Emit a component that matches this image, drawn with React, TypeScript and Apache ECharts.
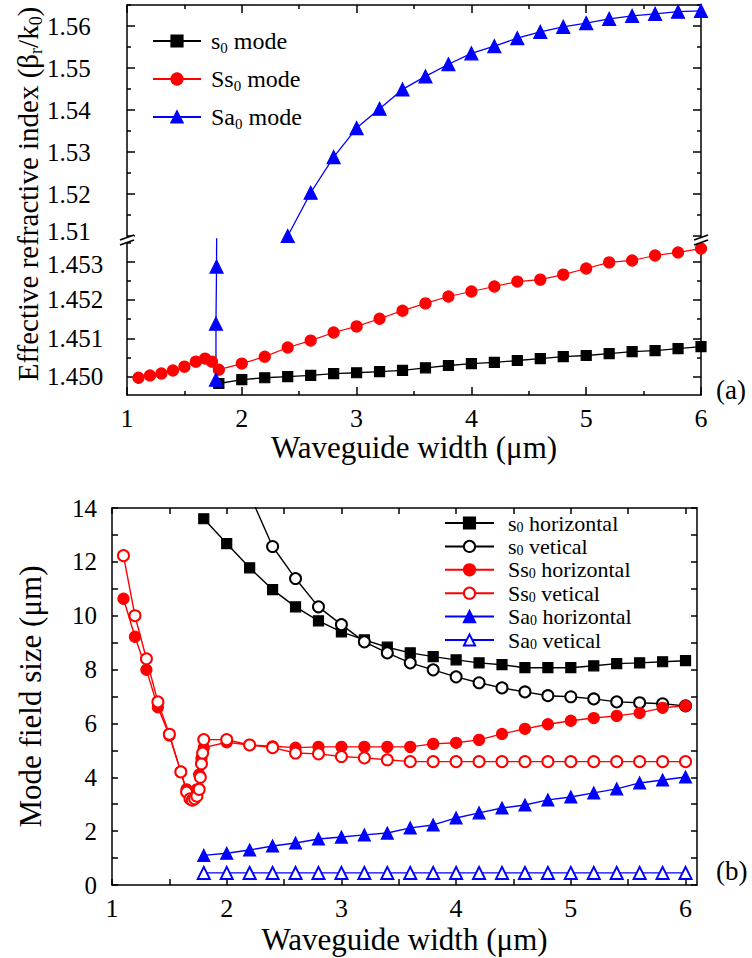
import React, { useEffect, useRef } from 'react';
import * as echarts from 'echarts';

const FONT = "Liberation Serif, Times New Roman, serif";
const BLACK = '#000000';
const RED = '#ff0000';
const BLUE = '#0000ff';

// ---------- Panel (a): effective refractive index ----------
const widthsA = [1.8, 2.0, 2.2, 2.4, 2.6, 2.8, 3.0, 3.2, 3.4, 3.6, 3.8, 4.0, 4.2, 4.4, 4.6, 4.8, 5.0, 5.2, 5.4, 5.6, 5.8, 6.0];
const s0ModeA = [1.44982, 1.44992, 1.44997, 1.45000, 1.45003, 1.45008, 1.45010, 1.45013, 1.45016, 1.45023, 1.45029, 1.45034, 1.45037, 1.45042, 1.45047, 1.45052, 1.45055, 1.45060, 1.45065, 1.45068, 1.45073, 1.45078];

const ss0WidthsA = [1.1, 1.2, 1.3, 1.4, 1.5, 1.6, 1.68, 1.74, 1.8, 2.0, 2.2, 2.4, 2.6, 2.8, 3.0, 3.2, 3.4, 3.6, 3.8, 4.0, 4.2, 4.4, 4.6, 4.8, 5.0, 5.2, 5.4, 5.6, 5.8, 6.0];
const ss0ModeA = [1.44997, 1.45003, 1.45008, 1.45016, 1.45026, 1.45039, 1.45047, 1.45039, 1.45018, 1.45034, 1.45052, 1.45076, 1.45094, 1.45115, 1.45131, 1.45151, 1.45172, 1.45191, 1.45209, 1.45222, 1.45235, 1.45248, 1.45253, 1.45266, 1.45282, 1.45298, 1.45303, 1.45316, 1.45324, 1.45334];

const sa0WidthsLowA = [1.775, 1.775, 1.78, 1.79];
const sa0ModeLowA = [1.44992, 1.45138, 1.45287, 1.4625];

const sa0WidthsHighA = [2.4, 2.6, 2.8, 3.0, 3.2, 3.4, 3.6, 3.8, 4.0, 4.2, 4.4, 4.6, 4.8, 5.0, 5.2, 5.4, 5.6, 5.8, 6.0];
const sa0ModeHighA = [1.5100, 1.5203, 1.5288, 1.5357, 1.5403, 1.5449, 1.5480, 1.5509, 1.5535, 1.5552, 1.5571, 1.5586, 1.5598, 1.5607, 1.5617, 1.5624, 1.5629, 1.5634, 1.5636];

const yLabelsHighA = [1.51, 1.52, 1.53, 1.54, 1.55, 1.56];
const yMinorHighA = [1.515, 1.525, 1.535, 1.545, 1.555, 1.565];
const yLabelsLowA = [1.450, 1.451, 1.452, 1.453];
const yMinorLowA = [1.4495, 1.4505, 1.4515, 1.4525, 1.4535];

// ---------- Panel (b): mode field size ----------
const widthsB = [1.8, 2.0, 2.2, 2.4, 2.6, 2.8, 3.0, 3.2, 3.4, 3.6, 3.8, 4.0, 4.2, 4.4, 4.6, 4.8, 5.0, 5.2, 5.4, 5.6, 5.8, 6.0];
const s0Horizontal = [13.6, 12.68, 11.78, 10.97, 10.33, 9.81, 9.4, 9.1, 8.83, 8.62, 8.48, 8.36, 8.25, 8.18, 8.07, 8.07, 8.07, 8.14, 8.22, 8.25, 8.29, 8.33];

const s0VertWidthsB = [2.2, 2.4, 2.6, 2.8, 3.0, 3.2, 3.4, 3.6, 3.8, 4.0, 4.2, 4.4, 4.6, 4.8, 5.0, 5.2, 5.4, 5.6, 5.8, 6.0];
const s0Vertical = [14.5, 12.57, 11.38, 10.33, 9.67, 9.03, 8.62, 8.25, 7.99, 7.73, 7.51, 7.32, 7.17, 7.03, 6.99, 6.91, 6.80, 6.77, 6.73, 6.65];

const ss0HorWidthsB = [1.1, 1.2, 1.3, 1.4, 1.5, 1.6, 1.65, 1.7, 1.72, 1.74, 1.76, 1.78, 1.8, 2.0, 2.2, 2.4, 2.6, 2.8, 3.0, 3.2, 3.4, 3.6, 3.8, 4.0, 4.2, 4.4, 4.6, 4.8, 5.0, 5.2, 5.4, 5.6, 5.8, 6.0];
const ss0Horizontal = [10.63, 9.22, 7.99, 6.6, 5.55, 4.2, 3.55, 3.3, 3.35, 3.55, 4.1, 4.7, 5.1, 5.3, 5.2, 5.15, 5.1, 5.13, 5.13, 5.13, 5.13, 5.13, 5.24, 5.28, 5.39, 5.61, 5.8, 5.97, 6.1, 6.2, 6.28, 6.39, 6.58, 6.65];

const ss0VertWidthsB = [1.1, 1.2, 1.3, 1.4, 1.5, 1.6, 1.65, 1.68, 1.7, 1.72, 1.74, 1.76, 1.77, 1.78, 1.79, 1.8, 2.0, 2.2, 2.4, 2.6, 2.8, 3.0, 3.2, 3.4, 3.6, 3.8, 4.0, 4.2, 4.4, 4.6, 4.8, 5.0, 5.2, 5.4, 5.6, 5.8, 6.0];
const ss0Vertical = [12.23, 10.0, 8.4, 6.8, 5.6, 4.2, 3.45, 3.2, 3.15, 3.2, 3.3, 3.55, 4.0, 4.5, 4.9, 5.4, 5.4, 5.2, 5.1, 4.9, 4.87, 4.77, 4.72, 4.65, 4.58, 4.58, 4.58, 4.58, 4.58, 4.58, 4.58, 4.58, 4.58, 4.58, 4.58, 4.58, 4.58];

const sa0Horizontal = [1.1, 1.18, 1.3, 1.45, 1.56, 1.71, 1.78, 1.86, 1.93, 2.12, 2.23, 2.49, 2.68, 2.86, 2.97, 3.16, 3.27, 3.42, 3.57, 3.79, 3.9, 4.01];
const sa0Vertical = [0.45, 0.45, 0.45, 0.45, 0.45, 0.45, 0.45, 0.45, 0.45, 0.45, 0.45, 0.45, 0.45, 0.45, 0.45, 0.45, 0.45, 0.45, 0.45, 0.45, 0.45, 0.45];

const xLabelsB = [1, 2, 3, 4, 5, 6];
const xTicksB = [1, 1.5, 2, 2.5, 3, 3.5, 4, 4.5, 5, 5.5, 6];
const yLabelsB = [0, 2, 4, 6, 8, 10, 12, 14];
const yTicksB = [0, 1, 2, 3, 4, 5, 6, 7, 8, 9, 10, 11, 12, 13, 14];

const legendA = ['s0 mode', 'Ss0 mode', 'Sa0 mode'];
const legendB = ['s0 horizontal', 's0 vetical', 'Ss0 horizontal', 'Ss0 vetical', 'Sa0 horizontal', 'Sa0 vetical'];

const zip = (xs: number[], ys: number[]) => xs.map((x, i) => [x, ys[i]]);

const LINE = { color: BLACK, width: 1.5 };

function yAxes(gridIndex: number, min: number, max: number, major: number[], minor: number[], labels: number[] | null, labelOpts: any, majorLen: number, minorLen: number) {
  const base = (position: string) => ({
    type: 'value', gridIndex, position, min, max,
    splitLine: { show: false },
  });
  const out: any[] = [];
  for (const pos of ['left', 'right']) {
    out.push({
      ...base(pos),
      axisLine: { show: true, onZero: false, lineStyle: LINE },
      axisTick: { show: true, inside: true, length: majorLen, customValues: major, lineStyle: LINE },
      axisLabel: pos === 'left' && labels ? { ...labelOpts, customValues: labels } : { show: false },
    });
    if (minor.length) {
      out.push({
        ...base(pos),
        axisLine: { show: false, onZero: false },
        axisTick: { show: true, inside: true, length: minorLen, customValues: minor, lineStyle: LINE },
        axisLabel: { show: false },
      });
    }
  }
  return out;
}

const legendFmt = (name: string) => {
  const i = name.indexOf('0');
  return `{g| }{n|${name.slice(0, i)}}{s|0}{n|${name.slice(i + 1)}}`;
};

export default function App() {
  const ref = useRef<HTMLDivElement>(null);
  useEffect(() => {
    document.body.style.margin = '0';
    if (!ref.current) return;
    const chart = echarts.init(ref.current, undefined, { renderer: 'svg' });

    const labelRich = {
      up: { fontSize: 25, fontFamily: FONT, color: BLACK, padding: [0, 0, 9, 0] },
      down: { fontSize: 25, fontFamily: FONT, color: BLACK, padding: [5, 0, 0, 0] },
    };
    const yLabelA = (digits: number, edge: number, tag: string) => ({
      show: true, align: 'left', margin: 80, fontSize: 25, fontFamily: FONT, color: BLACK,
      rich: labelRich,
      formatter: (v: number) => {
        const s = v.toFixed(digits);
        return Math.abs(v - edge) < 1e-7 ? `{${tag}|${s}}` : s;
      },
    });

    const yAx0 = yAxes(0, 1.50929, 1.565, yLabelsHighA, yMinorHighA, yLabelsHighA, yLabelA(2, 1.51, 'up'), 8, 4);
    const yAx1 = yAxes(1, 1.44952, 1.45359, yLabelsLowA, yMinorLowA, yLabelsLowA, yLabelA(3, 1.453, 'down'), 8, 4);
    const yAx2 = yAxes(2, 0, 14, yTicksB, [], yLabelsB, {
      show: true, margin: 15, fontSize: 25, fontFamily: FONT, color: BLACK,
    }, 6, 0);
    yAx2[0].name = 'Mode field size (μm)';
    yAx2[0].nameLocation = 'middle';
    yAx2[0].nameGap = 66;
    yAx2[0].nameTextStyle = { fontSize: 31, fontFamily: FONT, color: BLACK };
    const idx0 = 0;
    const idx1 = yAx0.length;
    const idx2 = yAx0.length + yAx1.length;

    const xBase = { type: 'value', splitLine: { show: false }, minorSplitLine: { show: false } };
    const xAxisA = (gridIndex: number, position: string, withLabels: boolean) => ({
      ...xBase, gridIndex, position, min: 1, max: 6, interval: 1,
      axisLine: { show: true, onZero: false, lineStyle: LINE },
      axisTick: { show: true, inside: true, length: 8, lineStyle: LINE },
      minorTick: { show: true, splitNumber: 2, length: 4, lineStyle: LINE },
      axisLabel: withLabels ? { show: true, margin: 10, fontSize: 26, fontFamily: FONT, color: BLACK } : { show: false },
    });
    const xAxisB = (position: string, withLabels: boolean) => ({
      ...xBase, gridIndex: 2, position, min: 1, max: 6.1,
      axisLine: { show: true, onZero: false, lineStyle: LINE },
      axisTick: { show: true, inside: true, length: 6, customValues: xTicksB, lineStyle: LINE },
      axisLabel: withLabels ? { show: true, margin: 10, fontSize: 26, fontFamily: FONT, color: BLACK, customValues: xLabelsB } : { show: false },
    });
    const xTitle = { fontSize: 31, fontFamily: FONT, color: BLACK };
    const x1 = { ...xAxisA(1, 'bottom', true), name: 'Waveguide width (μm)', nameLocation: 'middle', nameGap: 37, nameTextStyle: xTitle };
    const x2 = { ...xAxisB('bottom', true), name: 'Waveguide width (μm)', nameLocation: 'middle', nameGap: 39, nameTextStyle: xTitle };

    const line = (name: string, xi: number, yi: number, data: number[][], color: string, symbol: string, size: number, lw = 1.4) => ({
      name, type: 'line', xAxisIndex: xi, yAxisIndex: yi, data, symbol, symbolSize: size,
      lineStyle: { color, width: lw },
      itemStyle: { color, borderColor: color, borderWidth: 1.2 },
      emphasis: { disabled: true }, clip: true,
    });

    const richLegend = (fs: number, sub: number, lh: number, gap: number) => ({
      g: { width: gap },
      n: { fontSize: fs, fontFamily: FONT, color: BLACK, lineHeight: lh },
      s: { fontSize: sub, fontFamily: FONT, color: BLACK, lineHeight: sub, verticalAlign: 'bottom' },
    });

    const breakMarks: any[] = [];
    for (const cx of [127, 701]) {
      const cy = 239;
      breakMarks.push(
        { type: 'polygon', z: 100, shape: { points: [[cx - 7, cy + 1], [cx + 7, cy - 4], [cx + 7, cy + 1], [cx - 7, cy + 6]] }, style: { fill: '#ffffff' } },
        { type: 'line', z: 101, shape: { x1: cx - 7, y1: cy + 1, x2: cx + 7, y2: cy - 4 }, style: { stroke: BLACK, lineWidth: 1.8 } },
        { type: 'line', z: 101, shape: { x1: cx - 7, y1: cy + 6, x2: cx + 7, y2: cy + 1 }, style: { stroke: BLACK, lineWidth: 1.8 } },
      );
    }

    const option: any = {
      animation: false,
      backgroundColor: '#ffffff',
      textStyle: { fontFamily: FONT },
      grid: [
        { left: 127, right: 51, top: 5, height: 234, outerBoundsMode: 'none' },
        { left: 127, right: 51, top: 239, height: 156, outerBoundsMode: 'none' },
        { left: 112, right: 55, top: 508, height: 377, outerBoundsMode: 'none' },
      ],
      xAxis: [xAxisA(0, 'top', false), x1, x2, xAxisB('top', false)],
      yAxis: [...yAx0, ...yAx1, ...yAx2],
      legend: [
        {
          data: legendA, orient: 'vertical', left: 152, top: 29, padding: 0,
          itemWidth: 48, itemHeight: 14, itemGap: 12, selectedMode: false,
          formatter: legendFmt,
          textStyle: { color: BLACK, fontFamily: FONT, rich: richLegend(24, 15, 28, 5) },
        },
        {
          data: legendB, orient: 'vertical', left: 444, top: 512, padding: 0,
          itemWidth: 49, itemHeight: 14, itemGap: 1.4, selectedMode: false,
          formatter: legendFmt,
          textStyle: { color: BLACK, fontFamily: FONT, rich: richLegend(22, 14, 22, 9) },
        },
      ],
      series: [
        line('s0 mode', 1, idx1, zip(widthsA, s0ModeA), BLACK, 'rect', 10, 1.3),
        line('Ss0 mode', 1, idx1, zip(ss0WidthsA, ss0ModeA), RED, 'circle', 11, 1.2),
        line('Sa0 mode', 1, idx1, zip(sa0WidthsLowA, sa0ModeLowA), BLUE, 'triangle', 13, 1.3),
        line('Sa0 mode', 0, idx0, zip(sa0WidthsHighA, sa0ModeHighA), BLUE, 'triangle', 13, 1.3),

        line('s0 horizontal', 2, idx2, zip(widthsB, s0Horizontal), BLACK, 'rect', 10),
        line('s0 vetical', 2, idx2, zip(s0VertWidthsB, s0Vertical), BLACK, 'emptyCircle', 11),
        line('Ss0 horizontal', 2, idx2, zip(ss0HorWidthsB, ss0Horizontal), RED, 'circle', 11),
        line('Ss0 vetical', 2, idx2, zip(ss0VertWidthsB, ss0Vertical), RED, 'emptyCircle', 11),
        line('Sa0 horizontal', 2, idx2, zip(widthsB, sa0Horizontal), BLUE, 'triangle', 12),
        line('Sa0 vetical', 2, idx2, zip(widthsB, sa0Vertical), BLUE, 'emptyTriangle', 12),
      ],
      graphic: [
        {
          type: 'text', x: 28, y: 194, rotation: Math.PI / 2, z: 50,
          style: {
            text: '{n|Effective refractive index (β}{s|r}{n|/k}{s|0}{n|)}',
            align: 'center', verticalAlign: 'middle', fill: BLACK,
            rich: {
              n: { fontSize: 29, fontFamily: FONT, fill: BLACK, lineHeight: 34 },
              s: { fontSize: 18, fontFamily: FONT, fill: BLACK, lineHeight: 18, verticalAlign: 'bottom' },
            },
          },
        },
        { type: 'text', x: 716, y: 390, z: 50, style: { text: '(a)', fontSize: 27, fontFamily: FONT, fill: BLACK, verticalAlign: 'middle' } },
        { type: 'text', x: 716, y: 871, z: 50, style: { text: '(b)', fontSize: 27, fontFamily: FONT, fill: BLACK, verticalAlign: 'middle' } },
        ...breakMarks,
      ],
    };
    chart.setOption(option);
    return () => chart.dispose();
  }, []);
  return <div ref={ref} style={{ width: 752, height: 958 }} />;
}
